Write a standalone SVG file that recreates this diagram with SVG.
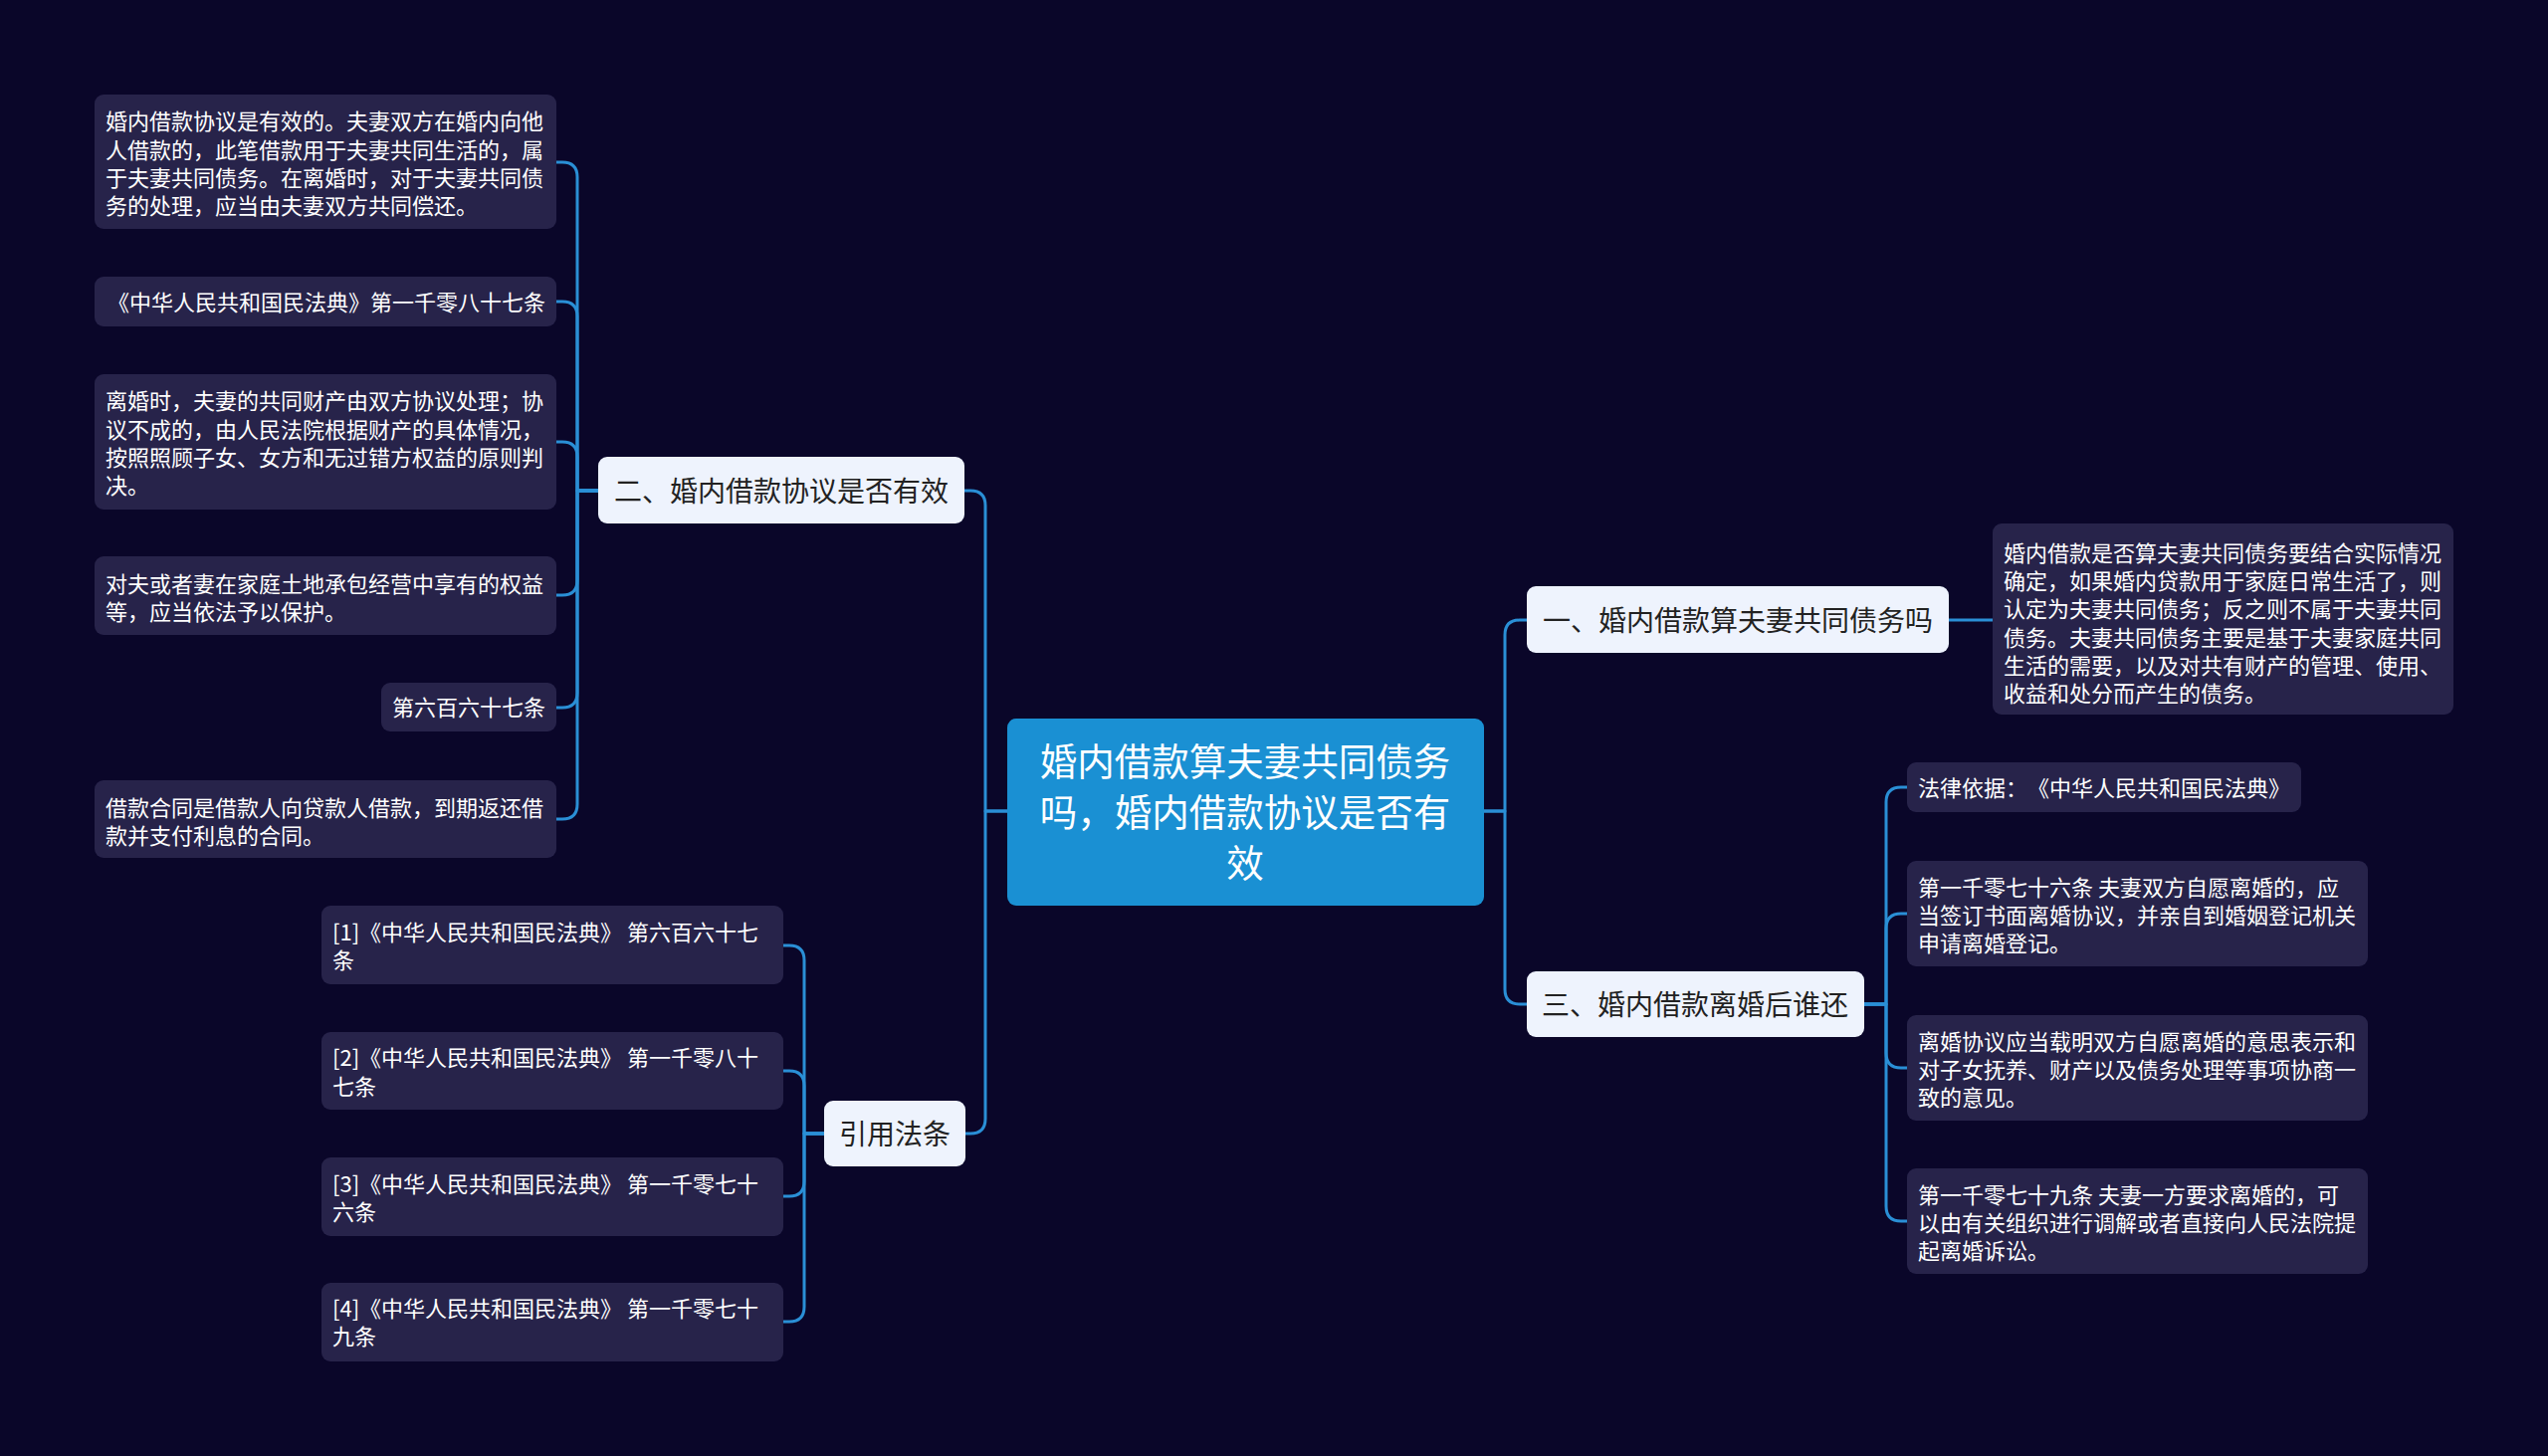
<svg xmlns="http://www.w3.org/2000/svg" width="2560" height="1463" viewBox="0 0 2560 1463">
<style>
.bg{fill:#0a0629}
.leaf{fill:#27234a}
text{text-spacing-trim:space-all;font-kerning:none}
.lt{font-family:"Noto Sans CJK SC","Noto Sans",sans-serif;font-size:22px;fill:#ffffff}
.node{fill:#eef3fd}
.nt{font-family:"Noto Sans CJK SC","Noto Sans",sans-serif;font-size:28px;fill:#222222;text-anchor:middle}
.root{fill:#1a90d3}
.rt{font-family:"Noto Sans CJK SC","Noto Sans",sans-serif;font-size:37.5px;fill:#ffffff;text-anchor:middle}
.ln{fill:none;stroke:#2a8fd6;stroke-width:3;stroke-linecap:round;stroke-linejoin:round}
</style>
<rect class="bg" x="0" y="0" width="2560" height="1463"/>
<g id="connectors">
<path class="ln" d="M1012,815 H990 V508 Q990,493 975,493 H969"/>
<path class="ln" d="M1012,815 H990 V1124 Q990,1139 975,1139 H970"/>
<path class="ln" d="M1491,815 H1512 V638 Q1512,623 1527,623 H1534"/>
<path class="ln" d="M1491,815 H1512 V994 Q1512,1009 1527,1009 H1534"/>
<path class="ln" d="M601,493 H580 V178 Q580,163 565,163 H559"/>
<path class="ln" d="M601,493 H580 V318 Q580,303 565,303 H559"/>
<path class="ln" d="M601,493 H580 V459 Q580,444 565,444 H559"/>
<path class="ln" d="M601,493 H580 V583 Q580,598 565,598 H559"/>
<path class="ln" d="M601,493 H580 V696 Q580,711 565,711 H559"/>
<path class="ln" d="M601,493 H580 V808 Q580,823 565,823 H559"/>
<path class="ln" d="M828,1139 H808 V965 Q808,950 793,950 H787"/>
<path class="ln" d="M828,1139 H808 V1091 Q808,1076 793,1076 H787"/>
<path class="ln" d="M828,1139 H808 V1187 Q808,1202 793,1202 H787"/>
<path class="ln" d="M828,1139 H808 V1313 Q808,1328 793,1328 H787"/>
<path class="ln" d="M1958,623 H2002"/>
<path class="ln" d="M1873,1009 H1895 V806 Q1895,791 1910,791 H1916"/>
<path class="ln" d="M1873,1009 H1895 V933 Q1895,918 1910,918 H1916"/>
<path class="ln" d="M1873,1009 H1895 V1058 Q1895,1073 1910,1073 H1916"/>
<path class="ln" d="M1873,1009 H1895 V1212 Q1895,1227 1910,1227 H1916"/>
</g>
<g id="root">
<rect class="root" x="1012" y="722" width="479" height="188" rx="9"/>
<text class="rt" x="1251" y="779">婚内借款算夫妻共同债务</text>
<text class="rt" x="1251" y="830">吗，婚内借款协议是否有</text>
<text class="rt" x="1251" y="881">效</text>
</g>
<g id="n2">
<rect class="node" x="601" y="459" width="368" height="67" rx="9"/>
<text class="nt" x="785" y="504">二、婚内借款协议是否有效</text>
</g>
<g id="n1">
<rect class="node" x="1534" y="589" width="424" height="67" rx="9"/>
<text class="nt" x="1746" y="634">一、婚内借款算夫妻共同债务吗</text>
</g>
<g id="n3">
<rect class="node" x="1534" y="976" width="339" height="66" rx="9"/>
<text class="nt" x="1703" y="1020">三、婚内借款离婚后谁还</text>
</g>
<g id="nref">
<rect class="node" x="828" y="1106" width="142" height="66" rx="9"/>
<text class="nt" x="899" y="1150">引用法条</text>
</g>
<g id="l2a">
<rect class="leaf" x="95" y="95" width="464" height="135" rx="9"/>
<text class="lt" x="106" y="130">婚内借款协议是有效的。夫妻双方在婚内向他</text>
<text class="lt" x="106" y="159">人借款的，此笔借款用于夫妻共同生活的，属</text>
<text class="lt" x="106" y="187">于夫妻共同债务。在离婚时，对于夫妻共同债</text>
<text class="lt" x="106" y="215">务的处理，应当由夫妻双方共同偿还。</text>
</g>
<g id="l2b">
<rect class="leaf" x="95" y="278" width="464" height="50" rx="9"/>
<text class="lt" x="548" y="312" text-anchor="end">《中华人民共和国民法典》第一千零八十七条</text>
</g>
<g id="l2c">
<rect class="leaf" x="95" y="376" width="464" height="136" rx="9"/>
<text class="lt" x="106" y="411">离婚时，夫妻的共同财产由双方协议处理；协</text>
<text class="lt" x="106" y="440">议不成的，由人民法院根据财产的具体情况，</text>
<text class="lt" x="106" y="468">按照照顾子女、女方和无过错方权益的原则判</text>
<text class="lt" x="106" y="496">决。</text>
</g>
<g id="l2d">
<rect class="leaf" x="95" y="559" width="464" height="79" rx="9"/>
<text class="lt" x="106" y="595">对夫或者妻在家庭土地承包经营中享有的权益</text>
<text class="lt" x="106" y="623">等，应当依法予以保护。</text>
</g>
<g id="l2e">
<rect class="leaf" x="383" y="686" width="176" height="49" rx="9"/>
<text class="lt" x="548" y="719" text-anchor="end">第六百六十七条</text>
</g>
<g id="l2f">
<rect class="leaf" x="95" y="784" width="464" height="78" rx="9"/>
<text class="lt" x="106" y="820">借款合同是借款人向贷款人借款，到期返还借</text>
<text class="lt" x="106" y="848">款并支付利息的合同。</text>
</g>
<g id="r1">
<rect class="leaf" x="323" y="910" width="464" height="79" rx="9"/>
<text class="lt" x="334" y="945">[1]《中华人民共和国民法典》 第六百六十七</text>
<text class="lt" x="334" y="973">条</text>
</g>
<g id="r2">
<rect class="leaf" x="323" y="1037" width="464" height="78" rx="9"/>
<text class="lt" x="334" y="1071">[2]《中华人民共和国民法典》 第一千零八十</text>
<text class="lt" x="334" y="1100">七条</text>
</g>
<g id="r3">
<rect class="leaf" x="323" y="1163" width="464" height="79" rx="9"/>
<text class="lt" x="334" y="1198">[3]《中华人民共和国民法典》 第一千零七十</text>
<text class="lt" x="334" y="1226">六条</text>
</g>
<g id="r4">
<rect class="leaf" x="323" y="1289" width="464" height="79" rx="9"/>
<text class="lt" x="334" y="1323">[4]《中华人民共和国民法典》 第一千零七十</text>
<text class="lt" x="334" y="1351">九条</text>
</g>
<g id="l1a">
<rect class="leaf" x="2002" y="526" width="463" height="192" rx="9"/>
<text class="lt" x="2013" y="564">婚内借款是否算夫妻共同债务要结合实际情况</text>
<text class="lt" x="2013" y="592">确定，如果婚内贷款用于家庭日常生活了，则</text>
<text class="lt" x="2013" y="620">认定为夫妻共同债务；反之则不属于夫妻共同</text>
<text class="lt" x="2013" y="649">债务。夫妻共同债务主要是基于夫妻家庭共同</text>
<text class="lt" x="2013" y="677">生活的需要，以及对共有财产的管理、使用、</text>
<text class="lt" x="2013" y="705">收益和处分而产生的债务。</text>
</g>
<g id="l3a">
<rect class="leaf" x="1916" y="766" width="396" height="50" rx="9"/>
<text class="lt" x="1927" y="800">法律依据：《中华人民共和国民法典》</text>
</g>
<g id="l3b">
<rect class="leaf" x="1916" y="865" width="463" height="106" rx="9"/>
<text class="lt" x="1927" y="900">第一千零七十六条 夫妻双方自愿离婚的，应</text>
<text class="lt" x="1927" y="928">当签订书面离婚协议，并亲自到婚姻登记机关</text>
<text class="lt" x="1927" y="956">申请离婚登记。</text>
</g>
<g id="l3c">
<rect class="leaf" x="1916" y="1020" width="463" height="106" rx="9"/>
<text class="lt" x="1927" y="1055">离婚协议应当载明双方自愿离婚的意思表示和</text>
<text class="lt" x="1927" y="1083">对子女抚养、财产以及债务处理等事项协商一</text>
<text class="lt" x="1927" y="1111">致的意见。</text>
</g>
<g id="l3d">
<rect class="leaf" x="1916" y="1174" width="463" height="106" rx="9"/>
<text class="lt" x="1927" y="1209">第一千零七十九条 夫妻一方要求离婚的，可</text>
<text class="lt" x="1927" y="1237">以由有关组织进行调解或者直接向人民法院提</text>
<text class="lt" x="1927" y="1265">起离婚诉讼。</text>
</g>
</svg>
